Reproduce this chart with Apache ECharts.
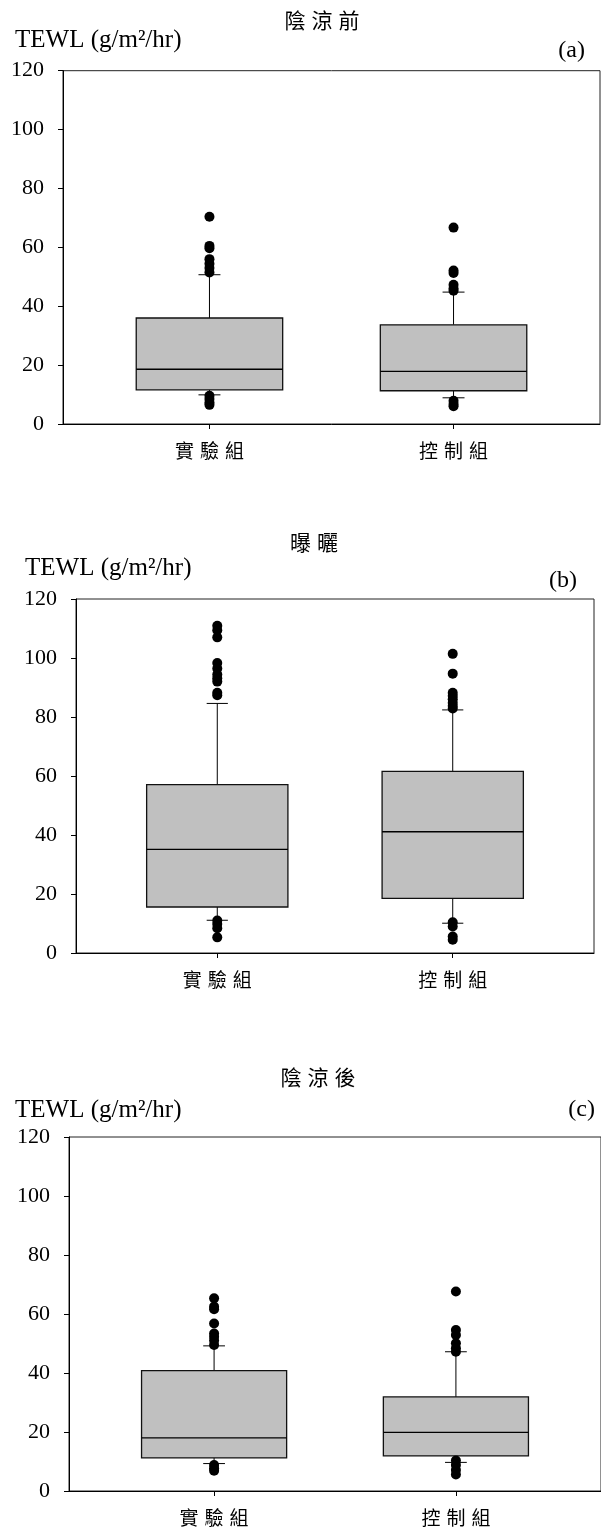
<!DOCTYPE html>
<html>
<head>
<meta charset="utf-8">
<script src="https://cdn.jsdelivr.net/npm/echarts@6/dist/echarts.min.js"></script>
<style>
html,body{margin:0;padding:0;background:#fff;}
#chart{width:601px;height:1530px;}
</style>
</head>
<body>
<div id="chart"></div>
<script>
// ---- data ----
const categories = ['實驗組', '控制組'];
const panelTitles = ['陰涼前', '曝曬', '陰涼後'];
const panelTags = ['(a)', '(b)', '(c)'];
const yAxisName = 'TEWL (g/m²/hr)';
const yMin = 0, yMax = 120, yStep = 20;

// [lower whisker, Q1, median, Q3, upper whisker]
const boxA_exp = [9.9, 11.6, 18.6, 36.0, 50.7];
const boxA_ctl = [8.9, 11.3, 17.9, 33.7, 44.8];
const outA_exp = [70.4, 60.5, 59.7, 56.0, 54.4, 53.0, 51.5, 9.6, 8.5, 7.3, 6.5];
const outA_ctl = [66.7, 52.1, 51.3, 47.3, 46.0, 45.3, 7.9, 6.8, 6.0];

const boxB_exp = [11.1, 15.6, 35.1, 57.1, 84.6];
const boxB_ctl = [10.1, 18.5, 41.1, 61.6, 82.4];
const outB_exp = [110.9, 109.4, 107.0, 98.3, 96.4, 94.4, 93.1, 92.0, 88.2, 87.4, 11.0, 9.8, 8.4, 5.3];
const outB_ctl = [101.4, 94.7, 88.2, 87.1, 86.0, 84.8, 83.7, 82.9, 10.4, 9.0, 5.6, 4.5];

const boxC_exp = [9.3, 11.2, 18.0, 40.8, 49.2];
const boxC_ctl = [9.7, 11.9, 19.9, 31.9, 47.2];
const outC_exp = [65.3, 62.5, 61.6, 56.8, 53.4, 52.3, 51.0, 49.5, 8.8, 7.7, 6.9];
const outC_ctl = [67.6, 54.6, 52.9, 50.1, 48.4, 47.2, 10.3, 8.8, 7.1, 5.6];

const panels = [
  { boxes: [boxA_exp, boxA_ctl], outliers: [outA_exp, outA_ctl] },
  { boxes: [boxB_exp, boxB_ctl], outliers: [outB_exp, outB_ctl] },
  { boxes: [boxC_exp, boxC_ctl], outliers: [outC_exp, outC_ctl] }
];

// ---- layout ----
const gridDefs = [
  { left: 63, top: 70.7, width: 537, height: 353.3 },
  { left: 76, top: 599, width: 518, height: 354 },
  { left: 69, top: 1137, width: 537, height: 354 }
];
const titlePos = [[322, 20], [314, 542], [318, 1077]];
const namePos = [[15, 40], [25, 568], [15, 1110]];
const tagPos = [[585, 51], [577, 581], [595, 1110]];

const serif = '"Liberation Serif", "Times New Roman", serif';
const cjk = '"Noto Sans CJK TC", "Noto Sans CJK SC", sans-serif';

function spaced(str) {
  return str.split('').map(ch => '{c|' + ch + '}').join('');
}

const grid = [], xAxis = [], yAxis = [], series = [], graphic = [];

panels.forEach((p, i) => {
  grid.push(Object.assign({ show: true, borderColor: '#222', borderWidth: 1, backgroundColor: 'transparent' }, gridDefs[i]));
  xAxis.push({
    type: 'value', gridIndex: i, min: 0.4, max: 2.6,
    splitLine: { show: false },
    axisLine: { show: true, onZero: false, lineStyle: { color: '#000', width: 1 } },
    axisTick: { show: true, customValues: [1, 2], length: 5, lineStyle: { color: '#000' } },
    axisLabel: {
      customValues: [1, 2], margin: 17,
      formatter: v => spaced(categories[Math.round(v) - 1]),
      rich: { c: { fontFamily: cjk, fontSize: 19, color: '#000', padding: [0, 3] } }
    }
  });
  yAxis.push({
    type: 'value', gridIndex: i, min: yMin, max: yMax, interval: yStep,
    splitLine: { show: false },
    axisLine: { show: true, lineStyle: { color: '#000', width: 1 } },
    axisTick: { show: true, length: 5, lineStyle: { color: '#000' } },
    axisLabel: { margin: 19, fontFamily: serif, fontSize: 22, color: '#000' }
  });

  series.push({
    type: 'custom', xAxisIndex: i, yAxisIndex: i,
    data: p.boxes.map((b, k) => [k + 1].concat(b)),
    encode: { x: 0, y: [1, 2, 3, 4, 5] },
    renderItem: function (params, api) {
      const x = api.value(0);
      const lw = api.coord([x, api.value(1)]);
      const q1 = api.coord([x, api.value(2)]);
      const md = api.coord([x, api.value(3)]);
      const q3 = api.coord([x, api.value(4)]);
      const uw = api.coord([x, api.value(5)]);
      const bw = api.size([0.6, 0])[0];
      const cw = api.size([0.09, 0])[0];
      const cx = q1[0];
      const ls = { stroke: '#000', lineWidth: 1 };
      return {
        type: 'group',
        children: [
          { type: 'line', shape: { x1: cx, y1: uw[1], x2: cx, y2: q3[1] }, style: ls },
          { type: 'line', shape: { x1: cx, y1: q1[1], x2: cx, y2: lw[1] }, style: ls },
          { type: 'line', shape: { x1: cx - cw / 2, y1: uw[1], x2: cx + cw / 2, y2: uw[1] }, style: ls },
          { type: 'line', shape: { x1: cx - cw / 2, y1: lw[1], x2: cx + cw / 2, y2: lw[1] }, style: ls },
          { type: 'rect', shape: { x: cx - bw / 2, y: q3[1], width: bw, height: q1[1] - q3[1] },
            style: { fill: '#c0c0c0', stroke: '#111', lineWidth: 1.3 } },
          { type: 'line', shape: { x1: cx - bw / 2, y1: md[1], x2: cx + bw / 2, y2: md[1] },
            style: { stroke: '#000', lineWidth: 1.3 } }
        ]
      };
    },
    z: 2
  });

  const pts = [];
  p.outliers.forEach((arr, k) => arr.forEach(v => pts.push([k + 1, v])));
  series.push({
    type: 'scatter', xAxisIndex: i, yAxisIndex: i,
    data: pts, symbol: 'circle', symbolSize: 10,
    itemStyle: { color: '#000', opacity: 1 }, z: 3, silent: true
  });

  graphic.push({
    type: 'text', x: titlePos[i][0], y: titlePos[i][1],
    style: { text: spaced(panelTitles[i]), rich: { c: { fontFamily: cjk, fontSize: 21, fill: '#000', padding: [0, 3] } },
      textAlign: 'center', textVerticalAlign: 'middle' }
  });
  graphic.push({
    type: 'text', x: namePos[i][0], y: namePos[i][1],
    style: { text: yAxisName, font: '25px ' + serif, fill: '#000', textAlign: 'left', textVerticalAlign: 'middle' }
  });
  graphic.push({
    type: 'text', x: tagPos[i][0], y: tagPos[i][1],
    style: { text: panelTags[i], font: '24px ' + serif, fill: '#000', textAlign: 'right', textVerticalAlign: 'middle' }
  });
});

const chart = echarts.init(document.getElementById('chart'), null, { renderer: 'canvas' });
chart.setOption({
  animation: false,
  backgroundColor: '#fff',
  grid, xAxis, yAxis, series, graphic
});
</script>
</body>
</html>
